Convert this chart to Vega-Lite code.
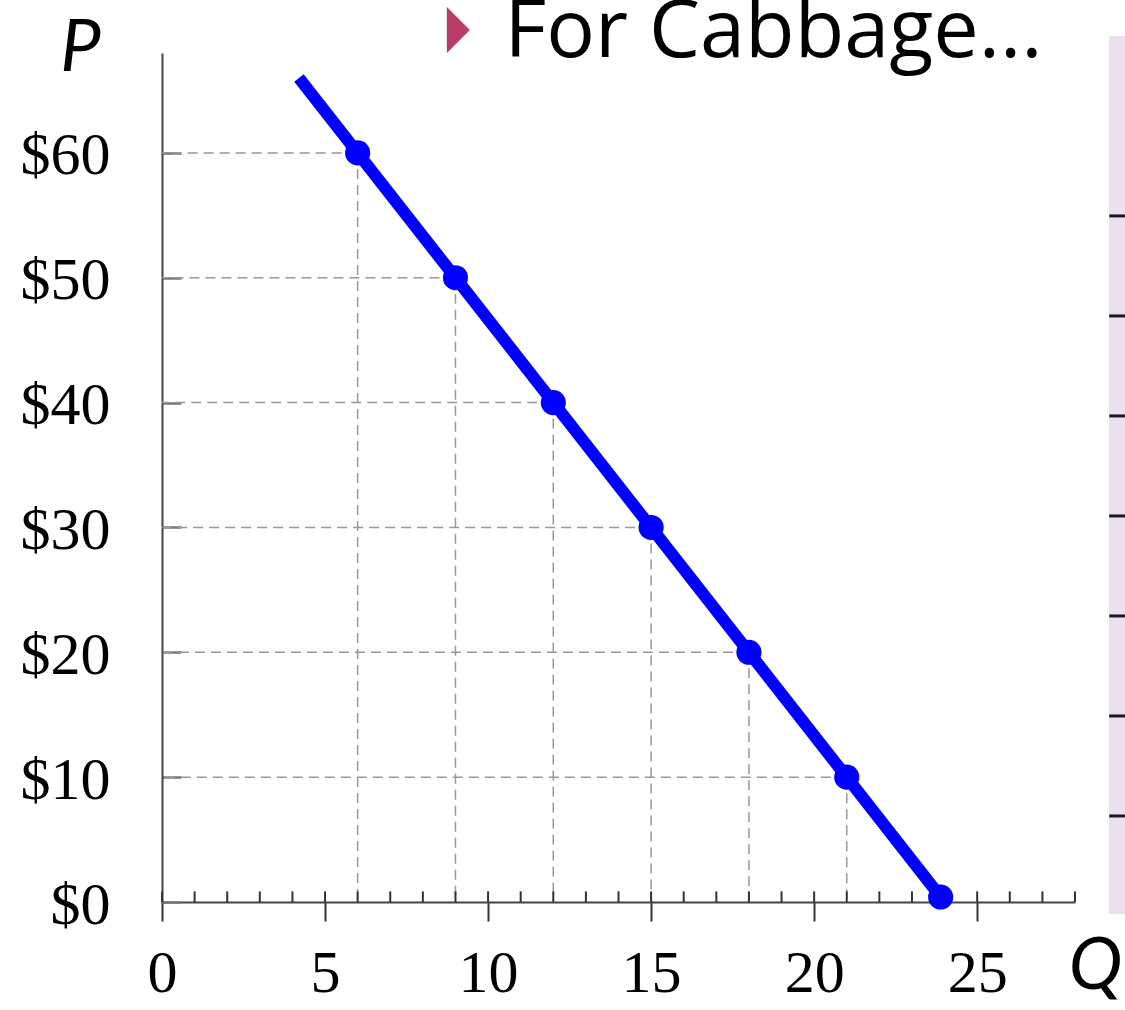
{
  "$schema": "https://vega.github.io/schema/vega-lite/v6.json",
  "width": 913,
  "height": 849,
  "autosize": {"type": "none"},
  "padding": {"left": 162, "top": 53, "right": 50, "bottom": 108},
  "background": "white",
  "config": {"view": {"stroke": null}, "font": "Liberation Serif"},
  "datasets": {
    "points": [
      {"Q": 6, "P": 60}, {"Q": 9, "P": 50}, {"Q": 12, "P": 40}, {"Q": 15, "P": 30},
      {"Q": 18, "P": 20}, {"Q": 21, "P": 10}, {"Q": 23.88, "P": 0.4}
    ],
    "demand": [{"Q": 4.2, "P": 66}, {"Q": 23.88, "P": 0.4}],
    "qticks": [
      {"Q": 0}, {"Q": 1}, {"Q": 2}, {"Q": 3}, {"Q": 4}, {"Q": 5}, {"Q": 6}, {"Q": 7}, {"Q": 8}, {"Q": 9},
      {"Q": 10}, {"Q": 11}, {"Q": 12}, {"Q": 13}, {"Q": 14}, {"Q": 15}, {"Q": 16}, {"Q": 17}, {"Q": 18}, {"Q": 19},
      {"Q": 20}, {"Q": 21}, {"Q": 22}, {"Q": 23}, {"Q": 24}, {"Q": 25}, {"Q": 26}, {"Q": 27}, {"Q": 28}
    ],
    "sidebar": [{"Q": 29.04, "Q2": 29.7, "P": -0.96, "P2": 69.36}],
    "sidebarLines": [{"P": 54.95}, {"P": 46.94}, {"P": 38.93}, {"P": 30.92}, {"P": 22.91}, {"P": 14.9}, {"P": 6.89}],
    "heading": [{"Q": 10.5, "P": 67.7, "label": "For Cabbage..."}],
    "bullet": [{"Q": 9.09, "P": 69.85}]
  },
  "layer": [
    {
      "data": {"name": "sidebar"},
      "mark": {"type": "rect", "color": "#ecdff0", "clip": false},
      "encoding": {
        "x": {
          "field": "Q", "type": "quantitative",
          "scale": {"domain": [0, 28], "nice": false, "zero": false},
          "axis": {
            "values": [0, 5, 10, 15, 20, 25],
            "grid": false,
            "tickSize": 19, "tickWidth": 2, "tickColor": "#333333",
            "domainColor": "#444444", "domainWidth": 2,
            "labelFont": "Liberation Serif", "labelFontSize": 60, "labelColor": "#000000",
            "labelPadding": 23, "labelFlush": false, "labelOverlap": false,
            "title": "Q",
            "titleFont": "Lato", "titleFontStyle": "italic", "titleFontWeight": "normal",
            "titleFontSize": 72, "titleColor": "#000000",
            "titleX": 933, "titleY": 86, "titleAlign": "center", "titleBaseline": "alphabetic"
          }
        },
        "x2": {"field": "Q2"},
        "y": {
          "field": "P", "type": "quantitative",
          "scale": {"domain": [0, 68], "nice": false, "zero": false},
          "axis": {
            "values": [0, 10, 20, 30, 40, 50, 60],
            "labelExpr": "'$' + datum.value",
            "grid": false,
            "tickSize": -19, "tickWidth": 2.5, "tickColor": "#777777",
            "domainColor": "#444444", "domainWidth": 2,
            "labelFont": "Liberation Serif", "labelFontSize": 60, "labelColor": "#000000",
            "labelPadding": 71, "labelOffset": 3, "labelFlush": false, "labelOverlap": false,
            "title": "P",
            "titleFont": "Lato", "titleFontStyle": "italic", "titleFontWeight": "normal",
            "titleFontSize": 72, "titleColor": "#000000", "titleAngle": 0,
            "titleX": -82, "titleY": 17, "titleAlign": "center", "titleBaseline": "alphabetic"
          }
        },
        "y2": {"field": "P2"}
      }
    },
    {
      "data": {"name": "sidebarLines"},
      "mark": {"type": "rule", "color": "#1a1a1a", "strokeWidth": 3, "clip": false},
      "encoding": {
        "y": {"field": "P", "type": "quantitative"},
        "x": {"datum": 29.05, "type": "quantitative"},
        "x2": {"datum": 29.7}
      }
    },
    {
      "data": {"name": "points"},
      "transform": [{"filter": "datum.P > 1"}],
      "mark": {"type": "rule", "color": "#999999", "strokeWidth": 1.5, "strokeDash": [10, 6]},
      "encoding": {
        "x": {"field": "Q", "type": "quantitative"},
        "x2": {"datum": 0},
        "y": {"field": "P", "type": "quantitative"}
      }
    },
    {
      "data": {"name": "points"},
      "transform": [{"filter": "datum.P > 1"}],
      "mark": {"type": "rule", "color": "#999999", "strokeWidth": 1.5, "strokeDash": [10, 6]},
      "encoding": {
        "x": {"field": "Q", "type": "quantitative"},
        "y": {"field": "P", "type": "quantitative"},
        "y2": {"datum": 0}
      }
    },
    {
      "data": {"name": "qticks"},
      "mark": {"type": "rule", "color": "#333333", "strokeWidth": 2},
      "encoding": {
        "x": {"field": "Q", "type": "quantitative"},
        "y": {"datum": 0, "type": "quantitative"},
        "y2": {"datum": 0.85}
      }
    },
    {
      "data": {"name": "demand"},
      "mark": {"type": "line", "color": "#0000ff", "strokeWidth": 12, "strokeCap": "butt"},
      "encoding": {
        "x": {"field": "Q", "type": "quantitative"},
        "y": {"field": "P", "type": "quantitative"}
      }
    },
    {
      "data": {"name": "points"},
      "mark": {"type": "point", "shape": "circle", "filled": true, "color": "#0000ff", "opacity": 1, "size": 630},
      "encoding": {
        "x": {"field": "Q", "type": "quantitative"},
        "y": {"field": "P", "type": "quantitative"}
      }
    },
    {
      "data": {"name": "heading"},
      "mark": {"type": "text", "font": "Open Sans", "fontSize": 81, "color": "#000000", "align": "left", "baseline": "alphabetic", "clip": false},
      "encoding": {
        "x": {"field": "Q", "type": "quantitative"},
        "y": {"field": "P", "type": "quantitative"},
        "text": {"field": "label"}
      }
    },
    {
      "data": {"name": "bullet"},
      "mark": {"type": "point", "shape": "M -0.5 -1 L 0.5 0 L -0.5 1 Z", "filled": true, "color": "#b83c68", "opacity": 1, "size": 2116, "clip": false},
      "encoding": {
        "x": {"field": "Q", "type": "quantitative"},
        "y": {"field": "P", "type": "quantitative"}
      }
    }
  ]
}
